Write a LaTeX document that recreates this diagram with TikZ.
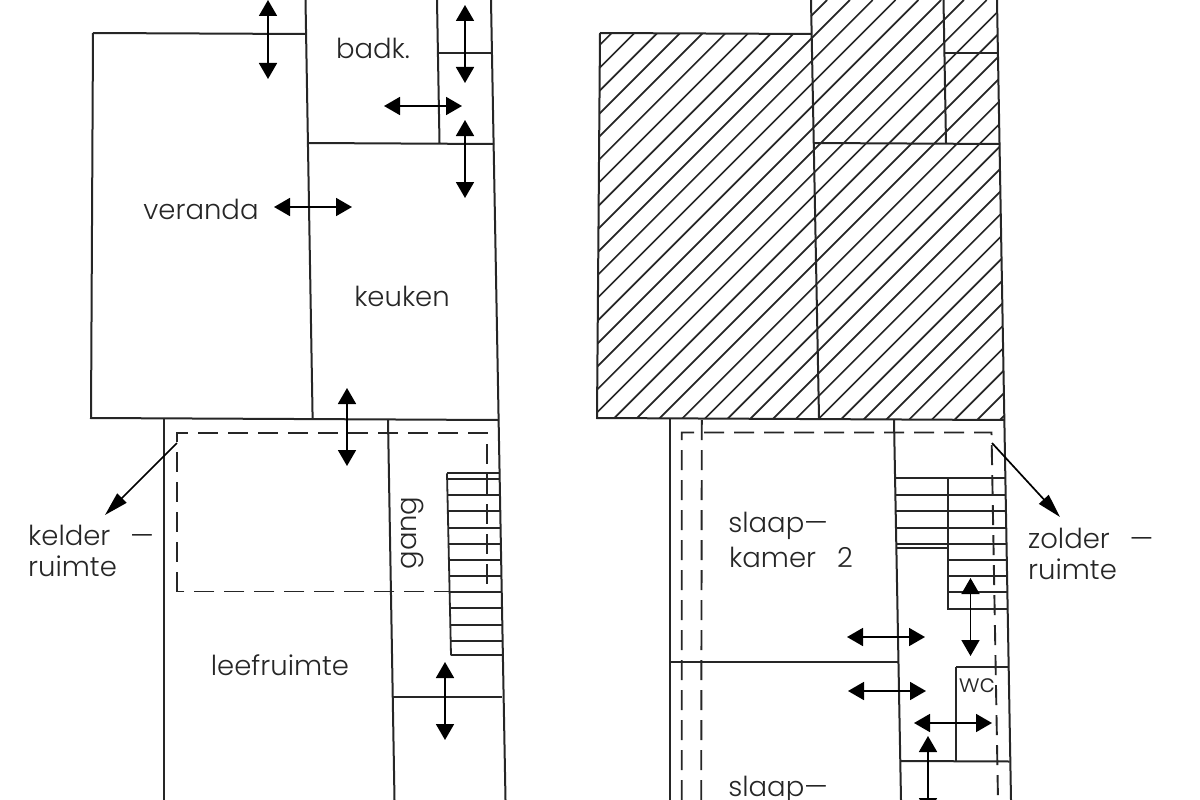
\documentclass[tikz,border=0pt]{standalone}
\usepackage{fontspec}
\setmainfont{Poppins Light}
\usetikzlibrary{arrows.meta}
\tikzset{
  wall/.style={line width=2pt,black!85},
  thin wall/.style={line width=1.8pt,black!85},
  hatch/.style={line width=1.7pt,black!85},
  hidden/.style={line width=1.9pt,black!85,dash pattern=on 20pt off 10pt},
  door/.style={line width=1.8pt,{Triangle[length=16pt,width=18pt]}-{Triangle[length=16pt,width=18pt]}},
  pointer/.style={line width=1.7pt,-{Triangle[length=24pt,width=13pt]}},
  lbl/.style={font=\fontsize{27.5}{32}\selectfont,text=black!85,inner sep=0pt}
}
\begin{document}
\begin{tikzpicture}[x=1pt,y=-1pt]
\useasboundingbox (0,0) rectangle (1200,800);
\fill[white] (0,0) rectangle (1200,800);
\begin{scope}
\clip (0,0) rectangle (1200,800);
% ---------- left plan
\draw[wall] (305.5,0) -- (312.6,418);
\draw[wall] (491,0) -- (505.5,800);
\draw[wall] (437,0) -- (439.5,143);
\draw[wall] (93,33) -- (305.6,34);
\draw[wall] (93,33) -- (91,418) -- (498,420);
\draw[wall] (308,143) -- (494,144);
\draw[wall] (438,53) -- (492,53);
\draw[wall] (164,419) -- (164,800);
\draw[wall] (388,420) -- (394.5,800);
\draw[wall] (392,697) -- (502,697);
% stairs
\draw[thin wall] (447,473.3) -- (451,655.3);
\foreach \yy/\xa/\xb in {473.3/447/499,479.3/447/499,495.3/447.5/499.5,511.3/447.8/500,527.7/448.1/500,544/448.5/500.5,560.3/448.8/500.5,576/449.2/501,592.3/449.6/501,608.3/450/501.5,625/450.3/501.5,640.7/450.6/502,655.3/451/502}
  \draw[thin wall] (\xa,\yy) -- (\xb,\yy);
\draw[hidden] (177,591.5) -- (177,432.8) -- (487,432.8) -- (487,591.5) -- cycle;
\draw[door] (268,0) -- (268,79);
\draw[door] (465,5) -- (465,83);
\draw[door] (384,106) -- (462,106);
\draw[door] (465,120) -- (465,198);
\draw[door] (274,207) -- (352,207);
\draw[door] (347,388) -- (347,466);
\draw[door] (445,662) -- (445,740);
\coordinate (kstart) at (177,443);
\coordinate (kend) at (105,515);
\draw[pointer] (kstart) -- (kend);
\node[lbl] (badk) at (373,48) {badk.};
\node[lbl] (veranda) at (201,209) {veranda};
\node[lbl] (keuken) at (402,296) {keuken};
\node[lbl] (leef) at (280,665) {leefruimte};
\node[lbl,rotate=90] (gang) at (413,533) {gang};
\node[lbl,anchor=west] (kelder) at (28,535) {kelder\hspace{20pt}—};
\node[lbl,anchor=west] (kruimte) at (28,566) {ruimte};
% ---------- right plan
\begin{scope}
\clip (600,33) -- (811,34) -- (810.5,0) -- (997,0) -- (1004,420) -- (597,418) -- cycle;
\foreach \k in {0,...,35}{
  \pgfmathsetmacro{\s}{644.7+22.8*\k}
  \draw[hatch] (\s,0) -- (\s-450,450);
}
\end{scope}
\draw[wall] (811,0) -- (819,418);
\draw[wall] (997,0) -- (1011,800);
\draw[wall] (943.5,0) -- (946,143);
\draw[wall] (600,33) -- (811.5,34);
\draw[wall] (600,33) -- (597,418) -- (1004,420);
\draw[wall] (814,143) -- (1000,144);
\draw[wall] (944,53) -- (997.8,53);
\draw[wall] (670,419) -- (670,800);
\draw[wall] (894,420) -- (901,800);
\draw[wall] (670,662) -- (898,662);
\draw[hidden] (681.7,800) -- (681.7,432.5) -- (991.5,432.5) -- (998,800);
\draw[hidden] (701.8,420) -- (701.2,800);
% stairs
\draw[line width=2.8pt,black!85] (895,478) -- (1005,478);
\draw[thin wall] (948.3,478) -- (948.3,609) -- (1007,609);
\foreach \yy/\xa/\xb in {495/895.3/1005.5,511.3/895.6/1005.8,527.7/895.9/1006,544/896.2/1006.3,560/948.3/1006.6,576/948.3/1007,592.3/948.3/1007.3}
  \draw[thin wall] (\xa,\yy) -- (\xb,\yy);
\draw[thin wall] (896.3,548.3) -- (948.3,548.3);
% wc
\draw[wall] (956,666.5) -- (1007.8,666.5);
\draw[wall] (956,666.5) -- (956,761);
\draw[wall] (900.5,761) -- (1009.5,761.5);
\draw[door] (970.5,578) -- (970.5,656);
\draw[door] (847,637) -- (925,637);
\draw[door] (848,691) -- (926,691);
\draw[door] (914,723) -- (992,723);
\draw[door] (928,736) -- (928,814);
\coordinate (zstart) at (992,443);
\coordinate (zend) at (1060,517);
\draw[pointer] (zstart) -- (zend);
\node[lbl] (s2a) at (778,526) {slaap—};
\node[lbl] (s2b) at (791,557) {kamer\hspace{21pt}2};
\node[lbl] (s1a) at (778,790) {slaap—};
\node[lbl,font=\fontsize{25}{28}\selectfont] (wc) at (977,686) {wc};
\node[lbl,anchor=west] (zolder) at (1028,538) {zolder\hspace{20pt}—};
\node[lbl,anchor=west] (zruimte) at (1028,569) {ruimte};
\end{scope}
\end{tikzpicture}
\end{document}
